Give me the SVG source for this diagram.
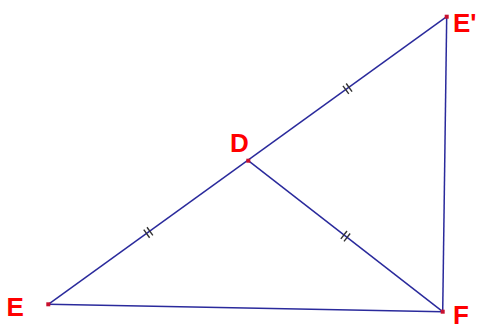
<svg xmlns="http://www.w3.org/2000/svg" xmlns:xlink="http://www.w3.org/1999/xlink" width="480" height="324" viewBox="0 0 480 324">
<style>
.seg{stroke:#2a2a9c;stroke-width:1.5;fill:none;}
.tick{stroke:#333;stroke-width:1.4;}
.lbl{font-family:"Liberation Sans",Arial,sans-serif;font-weight:bold;font-size:26px;fill:#ff0000;}
.pt{fill:#c8102e;}
</style>
<defs>
<g id="dt"><line class="tick" x1="-2" y1="-5" x2="-2" y2="5"/><line class="tick" x1="2" y1="-5" x2="2" y2="5"/></g>
</defs>
<rect width="480" height="324" fill="#fff"/>
<g id="connectors">
<line class="seg" x1="48.3" y1="304.3" x2="446.7" y2="16.7"/>
<line class="seg" x1="248.3" y1="160.7" x2="442.7" y2="311.7"/>
<line class="seg" x1="48.3" y1="304.3" x2="442.7" y2="311.7"/>
<line class="seg" x1="446.7" y1="16.7" x2="442.7" y2="311.7"/>
<use xlink:href="#dt" transform="translate(148.3,232.5) rotate(-35.8)"/>
<use xlink:href="#dt" transform="translate(347.5,88.7) rotate(-35.8)"/>
<use xlink:href="#dt" transform="translate(345.5,236.2) rotate(37.8)"/>
</g>
<g id="E"><rect class="pt" x="46.3" y="302.3" width="4" height="4"/><text class="lbl" x="6.5" y="316">E</text></g>
<g id="D"><rect class="pt" x="246.3" y="158.7" width="4" height="4"/><text class="lbl" x="230" y="151.7">D</text></g>
<g id="Eprime"><rect class="pt" x="444.7" y="14.7" width="4" height="4"/><text class="lbl" x="453" y="31.7">E'</text></g>
<g id="F"><rect class="pt" x="440.7" y="309.7" width="4" height="4"/><text class="lbl" x="453" y="323.5">F</text></g>
</svg>
